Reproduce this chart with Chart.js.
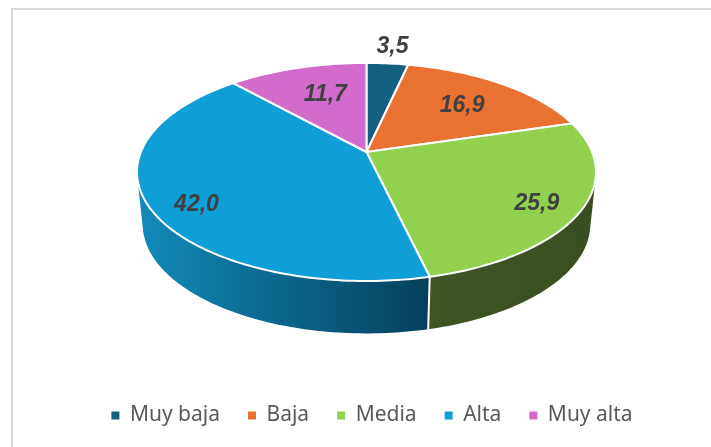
<!DOCTYPE html>
<html lang="es">
<head>
<meta charset="utf-8">
<title>Niveles</title>
<script src="https://cdn.jsdelivr.net/npm/chart.js@4"></script>
<style>
    html, body { margin: 0; padding: 0; background: #fff; overflow: hidden; width: 711px; height: 447px; }
    #frame { position: absolute; left: 11px; top: 8px; width: 718px; height: 460px; border: 2px solid #d9d9d9; }
    canvas { display: block; }
</style>
</head>
<body>
<div id="frame"><canvas id="pieChart" width="718" height="426"></canvas></div>
<script>
const categories = ['Muy baja', 'Baja', 'Media', 'Alta', 'Muy alta'];
const values = [3.5, 16.9, 25.9, 42.0, 11.7];
const valueLabels = ['3,5', '16,9', '25,9', '42,0', '11,7'];
const sliceColors = ['#156082', '#E97132', '#92D050', '#0F9ED5', '#D26BCB'];
const sideColors = [['#156082', '#0c3a4e'], ['#8a431e', '#8a431e'], ['#3E5522', '#3A4F20'], ['#1289B8', '#04405C'], ['#7d407a', '#7d407a']];

// where each label sits, as a share of the radius and a small turn in degrees
const labelRadius = [1.24, 0.67, 0.82, 0.83, 0.65];
const labelTurn = [0, 0, 2.7, -5.4, 2.4];

// perspective of the tilted disc, top face and bottom face
const topFace = { x: 366.5 - 13, y: 152 - 10, a: 225.6, b: 105.4, p: 0.183 };
const bottomFace = { x: 366.5 - 13, y: 204.3 - 10, a: 220, b: 105.5, p: 0.183 };
const SIDE_FROM = 14 * Math.PI / 180;
const SIDE_TO = 166 * Math.PI / 180;

function project(face, angle, r = 1) {
    const u = Math.cos(angle) * r;
    const v = Math.sin(angle) * r;
    const d = 1 - face.p * v;
    return { x: face.x + face.a * u / d, y: face.y + face.b * v / d };
}

function traceArc(ctx, face, from, to) {
    const steps = Math.max(2, Math.ceil(Math.abs(to - from) / 0.02));
    for (let i = 0; i <= steps; i++) {
        const pt = project(face, from + (to - from) * i / steps);
        ctx.lineTo(pt.x, pt.y);
    }
}

const tiltedPie = {
    id: 'tiltedPie',
    beforeDatasetDraw(chart, args) {
        const ctx = chart.ctx;
        const arcs = args.meta.data;
        ctx.save();
        ctx.lineJoin = 'round';

        // side wall, only the part that faces us
        arcs.forEach((arc, i) => {
            const from = Math.max(arc.startAngle, SIDE_FROM);
            const to = Math.min(arc.endAngle, SIDE_TO);
            if (to <= from) return;
            const left = project(bottomFace, to).x;
            const right = project(bottomFace, from).x;
            const grad = ctx.createLinearGradient(left, 0, right, 0);
            grad.addColorStop(0, sideColors[i][0]);
            grad.addColorStop(1, sideColors[i][1]);
            ctx.beginPath();
            traceArc(ctx, topFace, from, to);
            traceArc(ctx, bottomFace, to, from);
            ctx.closePath();
            ctx.fillStyle = grad;
            ctx.fill();
        });

        // white seams on the wall
        ctx.strokeStyle = '#fff';
        ctx.lineWidth = 2;
        arcs.forEach((arc) => {
            if (arc.endAngle <= SIDE_FROM || arc.endAngle >= SIDE_TO) return;
            const a = project(topFace, arc.endAngle);
            const b = project(bottomFace, arc.endAngle);
            ctx.beginPath();
            ctx.moveTo(a.x, a.y);
            ctx.lineTo(b.x, b.y);
            ctx.stroke();
        });

        // top face
        arcs.forEach((arc, i) => {
            ctx.beginPath();
            ctx.moveTo(topFace.x, topFace.y);
            traceArc(ctx, topFace, arc.startAngle, arc.endAngle);
            ctx.closePath();
            ctx.fillStyle = sliceColors[i];
            ctx.fill();
            ctx.stroke();
        });

        // value labels
        ctx.font = 'italic bold 23px "Liberation Sans", Arial, sans-serif';
        ctx.fillStyle = '#404040';
        ctx.textAlign = 'center';
        ctx.textBaseline = 'middle';
        arcs.forEach((arc, i) => {
            const mid = (arc.startAngle + arc.endAngle) / 2 + labelTurn[i] * Math.PI / 180;
            const pt = project(topFace, mid, labelRadius[i]);
            ctx.fillText(valueLabels[i], pt.x + 1, pt.y + 1);
        });
        ctx.restore();
        return false;
    }
};

new Chart(document.getElementById('pieChart'), {
    type: 'pie',
    data: {
        labels: categories,
        datasets: [{ data: values, backgroundColor: sliceColors, borderWidth: 0 }]
    },
    options: {
        responsive: false,
        animation: false,
        layout: { padding: 0 },
        plugins: {
            tooltip: { enabled: false },
            legend: {
                position: 'bottom',
                labels: {
                    boxWidth: 8,
                    boxHeight: 8,
                    padding: 28,
                    color: '#595959',
                    font: { family: '"Noto Sans", sans-serif', size: 21 }
                }
            }
        }
    },
    plugins: [tiltedPie]
});
</script>
</body>
</html>
